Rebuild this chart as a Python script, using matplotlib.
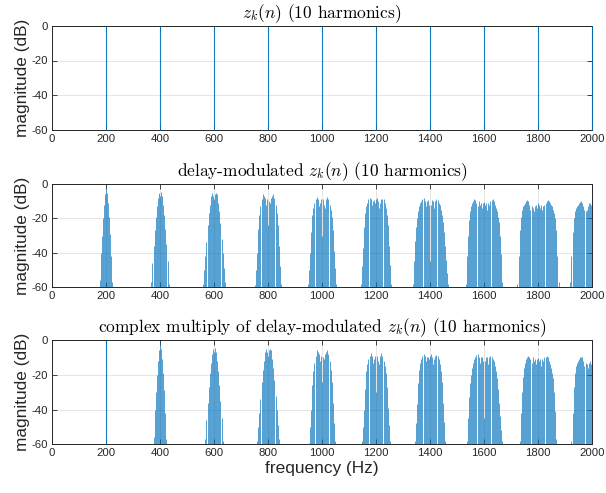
import numpy as np
import matplotlib.pyplot as plt

plt.rcParams['axes.unicode_minus'] = False
plt.rcParams['mathtext.fontset'] = 'cm'

BLUE = '#0072BD'
AX_GREY = '#262626'

harmonics = [200, 400, 600, 800, 1000, 1200, 1400, 1600, 1800, 2000]
harmonic_db = [0, 0, 0, 0, 0, 0, 0, 0, 0, 0]

# FFT lines are bin_hz apart; each sideband list starts at *_first Hz from its harmonic
bin_hz = 4
sb_200_first, sb_200 = -24, [-56, -40, -30, -20, -12, -6, -2, -5, -11, -19, -29, -42, -57]
sb_400_first, sb_400 = -32, [-57, -46, -36, -27, -19, -13, -8, -5, -7, -4.5, -7, -12, -18,
                             -26, -35, -45, -58]
sb_600_first, sb_600 = -40, [-58, -50, -42, -34, -24, -17, -12, -7, -5, -7, -9, -6, -5, -6,
                             -11, -16, -23, -32, -40, -49, -57]
sb_800_first, sb_800 = -48, [-59, -50, -40, -26, -18, -13, -9, -6, -7, -8, -12, -9, -24, -10,
                             -11, -8, -7, -6, -8, -12, -17, -24, -36, -48, -58]
sb_1000_first, sb_1000 = -52, [-58, -50, -40, -28, -18, -14, -11, -9, -7.5, -9, -13, -11, -9,
                               -30, -9, -12, -14, -9, -7.5, -9, -12, -15, -19, -27, -39, -49,
                               -58]
sb_1200_first, sb_1200 = -56, [-58, -48, -37, -25, -17, -13, -11, -9, -8, -9, -12, -10, -9.5,
                               -11, -9, -8, -10, -14, -11, -9, -8.5, -9, -11, -14, -18, -24,
                               -36, -47, -58]
sb_1400_first, sb_1400 = -64, [-58, -45, -33, -25, -20, -16, -13, -11, -10, -8.5, -8, -10, -13,
                               -10, -9.5, -12, -45, -12, -9.5, -10, -14, -10, -9, -9.5, -11,
                               -12, -15, -18, -22, -28, -36, -44, -52, -58]
sb_1600_first, sb_1600 = -68, [-58, -42, -30, -21, -16, -13, -11, -10, -9, -9.5, -11, -13, -10,
                               -12, -11, -14, -11, -10.5, -12, -11, -15, -11, -12, -10, -9.5,
                               -9, -10, -12, -14, -16, -19, -22, -30, -41, -57]
sb_1800_first, sb_1800 = -76, [-58, -42, -27, -19, -15, -13, -12, -11, -10, -9.5, -10, -12, -15,
                               -13, -14, -16, -13, -12, -14, -11, -12, -14, -12, -15, -13, -12,
                               -11, -10, -9.5, -10, -11, -12, -13, -15, -17, -20, -27, -42, -57]
sb_2000_first, sb_2000 = -80, [-57, -42, -28, -20, -16, -14, -13, -12, -11, -10.5, -10, -11,
                               -13, -15, -16, -15, -13, -11, -11, -12, -13]

dm_first = [sb_200_first, sb_400_first, sb_600_first, sb_800_first, sb_1000_first,
            sb_1200_first, sb_1400_first, sb_1600_first, sb_1800_first, sb_2000_first]
dm_db = [sb_200, sb_400, sb_600, sb_800, sb_1000, sb_1200, sb_1400, sb_1600, sb_1800, sb_2000]

titles = [r'$z_k(n)$ (10 harmonics)',
          r'delay-modulated $z_k(n)$ (10 harmonics)',
          r'complex multiply of delay-modulated $z_k(n)$ (10 harmonics)']


def draw_clusters(ax, centers, firsts, profiles):
    for c, f0, prof in zip(centers, firsts, profiles):
        f = c + f0 + bin_hz * np.arange(len(prof))
        ax.vlines(f, -60, prof, color=BLUE, lw=0.55, alpha=0.85, zorder=2)


def draw_lines(ax, f, db):
    # last harmonic sits on the right edge, keep it visible over the frame
    ax.vlines(f, -60, db, color=BLUE, lw=0.8, alpha=0.9, zorder=3, clip_on=False)


def style(ax, title):
    ax.set_xlim(0, 2000)
    ax.set_ylim(-60, 0)
    ax.set_xticks(np.arange(0, 2001, 200))
    ax.set_yticks([-60, -40, -20, 0])
    ax.grid(True, color='#262626', alpha=0.12, lw=0.7, zorder=0)
    ax.set_axisbelow(True)
    ax.tick_params(direction='in', length=3.6, width=0.6, top=True, right=True,
                   colors=AX_GREY, labelsize=8.2, pad=3)
    for lab in ax.get_xticklabels() + ax.get_yticklabels():
        lab.set_fontfamily('Liberation Sans')
    for s in ax.spines.values():
        s.set_color(AX_GREY)
        s.set_linewidth(0.7)
    ax.set_ylabel('magnitude (dB)', fontsize=12.4, family='Liberation Sans',
                  color=AX_GREY, labelpad=1)
    ax.set_title(title, fontsize=12.5, family='cmr10', pad=5.5)


fig = plt.figure(figsize=(6.06, 4.93), dpi=100)
W, H = 606, 493
axes = []
for top, bot in [(26, 129.5), (184, 287), (340, 444.3)]:
    axes.append(fig.add_axes([52 / W, 1 - bot / H, 540 / W, (bot - top) / H]))

# plain harmonics
draw_lines(axes[0], harmonics, harmonic_db)

# delay-modulated: every harmonic gets its own sideband spread
draw_clusters(axes[1], harmonics, dm_first, dm_db)

# complex multiply: fundamental is clean, harmonic k carries the spread of harmonic k-1
draw_lines(axes[2], harmonics[:1], harmonic_db[:1])
draw_clusters(axes[2], harmonics[1:], dm_first[:-1], dm_db[:-1])

for ax, t in zip(axes, titles):
    style(ax, t)
axes[2].set_xlabel('frequency (Hz)', fontsize=12.4, family='Liberation Sans',
                   color=AX_GREY, labelpad=2)

fig.savefig('out.png', dpi=100)
